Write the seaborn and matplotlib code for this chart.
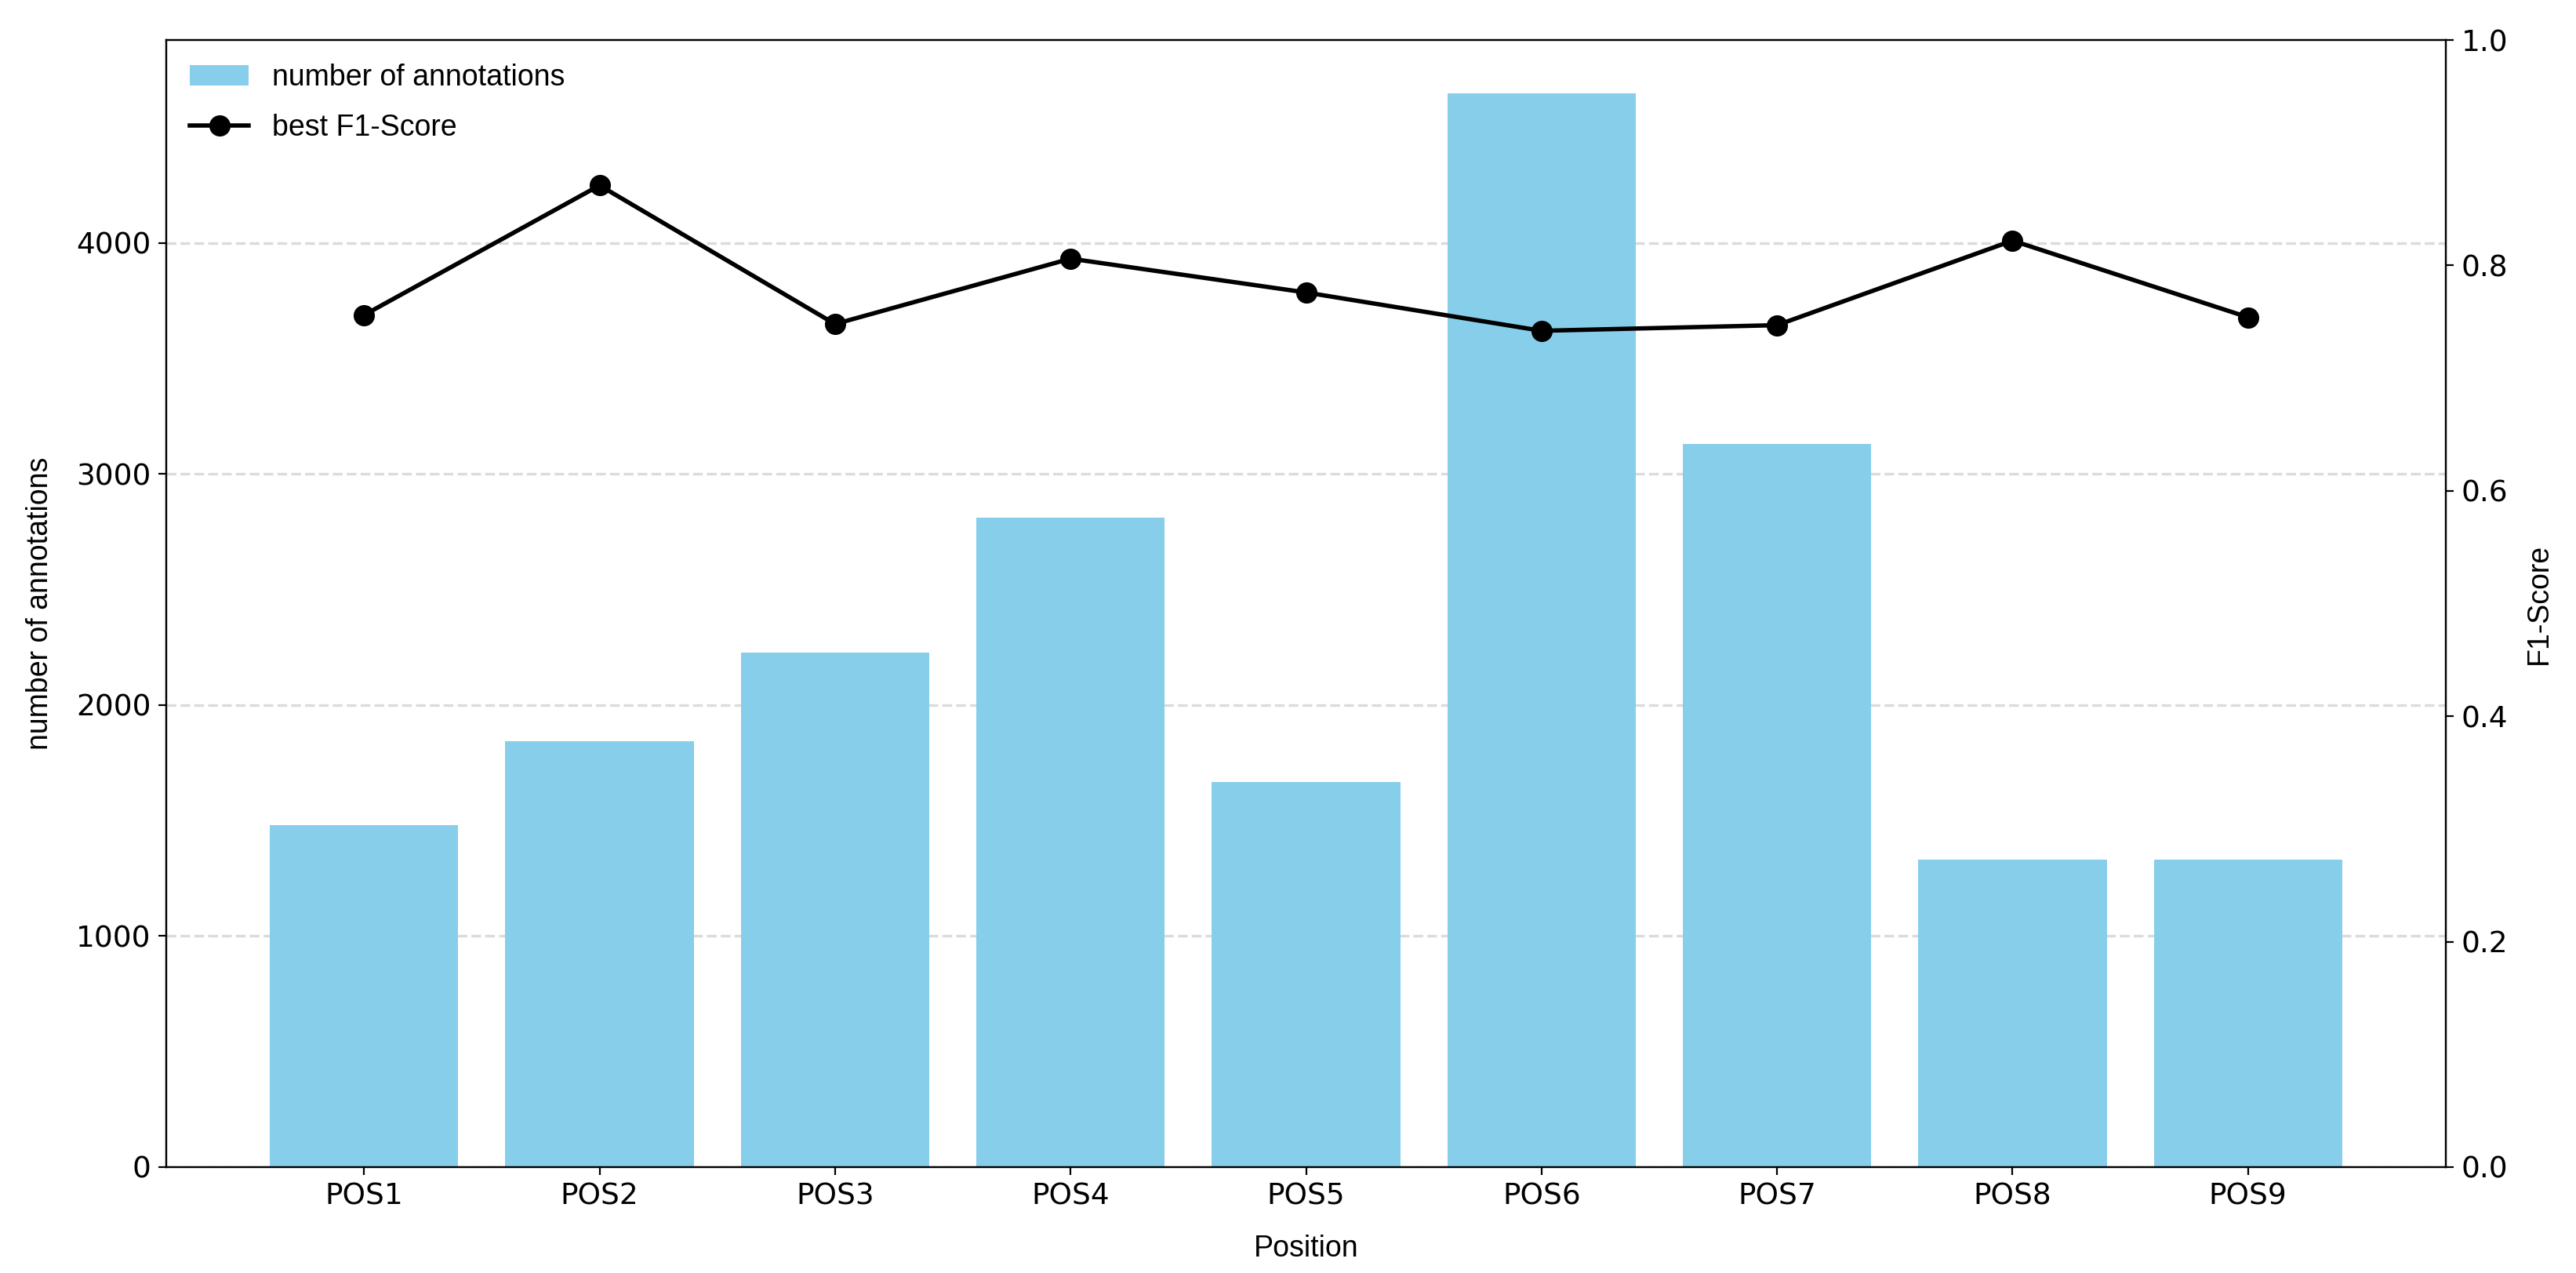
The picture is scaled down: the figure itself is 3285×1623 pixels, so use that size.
import matplotlib
matplotlib.use("Agg")
import matplotlib.pyplot as plt
import seaborn as sns
import pandas as pd

positions = ["POS1", "POS2", "POS3", "POS4", "POS5", "POS6", "POS7", "POS8", "POS9"]
annotation_counts = [1481, 1844, 2228, 2812, 1666, 4647, 3132, 1332, 1332]
best_f1 = [0.756, 0.871, 0.748, 0.806, 0.776, 0.742, 0.747, 0.822, 0.754]

df = pd.DataFrame({"Position": positions, "count": annotation_counts, "f1": best_f1})

label_font = ["Liberation Sans", "DejaVu Sans"]
FS = 13.5

fig, ax = plt.subplots(figsize=(16.425, 8.115), dpi=200)
fig.subplots_adjust(left=212 / 3285, right=3119 / 3285, top=1 - 51 / 1623, bottom=1 - 1488 / 1623)

sns.barplot(data=df, x="Position", y="count", color="skyblue", saturation=1,
            width=0.8, ax=ax, label="number of annotations")
ax.set_axisbelow(True)
ax.yaxis.grid(True, linestyle="--", color="lightgray", linewidth=1.2, alpha=0.8)
ax.set_xlabel("Position", fontsize=FS, family=label_font, labelpad=11)
ax.set_ylabel("number of annotations", fontsize=FS, family=label_font, labelpad=10)
ax.tick_params(labelsize=FS)

ax2 = ax.twinx()
sns.lineplot(data=df, x="Position", y="f1", color="black", marker="o", markersize=9,
             markeredgecolor="black", linewidth=2, ax=ax2, label="best F1-Score", legend=False)
ax2.set_ylim(0, 1.0)
ax2.set_ylabel("F1-Score", fontsize=FS, family=label_font, labelpad=8)
ax2.tick_params(labelsize=FS)
ax2.grid(False)

h1, l1 = ax.get_legend_handles_labels()
h2, l2 = ax2.get_legend_handles_labels()
if ax.get_legend() is not None:
    ax.get_legend().remove()
leg = ax.legend(h1 + h2, l1 + l2, loc="upper left", frameon=False, labelspacing=0.75,
                borderaxespad=0.4, prop={"family": label_font, "size": FS})

fig.savefig("out.png", dpi=200)
